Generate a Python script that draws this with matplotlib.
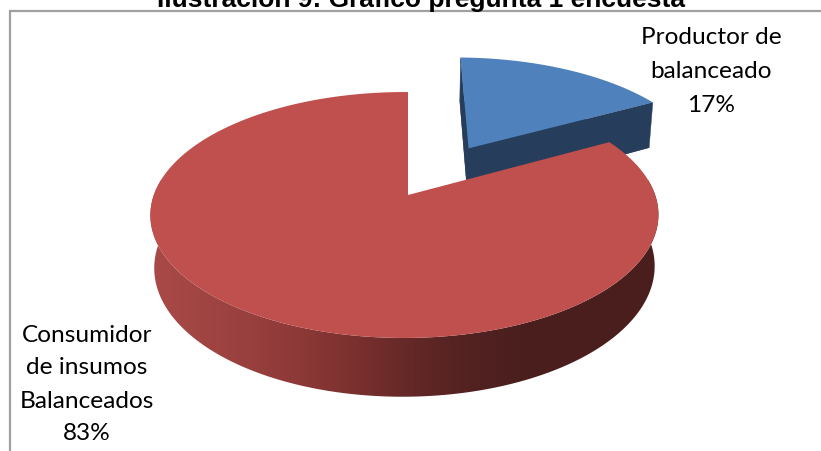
import numpy as np
import matplotlib
matplotlib.use("Agg")
import matplotlib.pyplot as plt
from matplotlib.patches import Polygon

# --- DATA ---
CATEGORIES = ["Productor de\nbalanceado", "Consumidor\nde insumos\nBalanceados"]
PERCENTS = [17, 83]
TITLE = "Ilustración 9: Gráfico pregunta 1 encuesta"

# --- PIE GEOMETRY (pixels, perspective view of a unit disk) ---
CX, CY = 408, 195
RX, RY = 250.6, 119.7
PERSP_Y = 0.1626
PERSP_X = 0.014
DROP = 51
BOTTOM_SCALE = 0.985
EXPLODE = 0.485
EXPLODE_NUDGE = 0.012

BLUE_TOP = "#4f81bd"
BLUE_SIDE = "#263d5c"
RED_TOP = "#c0504d"

# side shading of the big slice, left to right
SHADE_X = [150, 250, 300, 350, 420, 480, 520, 660]
SHADE_R = [170, 152, 140, 124, 96, 80, 75, 74]
SHADE_G = [74, 64, 57, 49, 39, 33, 31, 30]
SHADE_B = [72, 62, 55, 47, 38, 32, 30, 29]


def project(x, y, bottom=False):
    """Disk coordinates to pixels, for the top or the bottom face."""
    d = 1 + PERSP_Y * y + PERSP_X * x
    if bottom:
        return CX + BOTTOM_SCALE * RX * x / d, CY + DROP / d - BOTTOM_SCALE * RY * y / d
    return CX + RX * x / d, CY - RY * y / d


def slice_outline(a0, a1, ox=0.0, oy=0.0, n=120):
    """Apex and arc of a slice, angles clockwise from north in degrees."""
    t = np.radians(np.linspace(a0, a1, n))
    x = np.r_[0, np.sin(t)] + ox
    y = np.r_[0, np.cos(t)] + oy
    return x, y


def draw_small_slice(ax, sweep):
    mid = np.radians(sweep / 2)
    ox = EXPLODE * np.sin(mid) + EXPLODE_NUDGE
    oy = EXPLODE * np.cos(mid)
    x, y = slice_outline(0, sweep, ox, oy)
    tx, ty = project(x, y)
    bx, by = project(x, y, bottom=True)
    ax.fill(bx, by, color=BLUE_SIDE, lw=0)
    # the two cut faces
    for i, j in [(0, 1), (-1, 0)]:
        qx = [tx[i], tx[j], bx[j], bx[i]]
        qy = [ty[i], ty[j], by[j], by[i]]
        ax.fill(qx, qy, color=BLUE_SIDE, lw=0.3)
    ax.fill(tx, ty, color=BLUE_TOP, lw=0)


def draw_big_slice(ax, start):
    x, y = slice_outline(start, 360, n=300)
    tx, ty = project(x, y)
    bx, by = project(x, y, bottom=True)

    # rim: a horizontal gradient clipped to the visible front wall
    front = y[1:] < 0.25
    rim_x = np.r_[tx[1:][front], bx[1:][front][::-1]]
    rim_y = np.r_[ty[1:][front], by[1:][front][::-1]]
    clip = Polygon(np.c_[rim_x, rim_y], closed=True, transform=ax.transData, fc="none", ec="none")
    ax.add_patch(clip)
    xs = np.arange(140, 671)
    grad = np.dstack([np.interp(xs, SHADE_X, SHADE_R),
                      np.interp(xs, SHADE_X, SHADE_G),
                      np.interp(xs, SHADE_X, SHADE_B)]) / 255
    im = ax.imshow(grad, extent=(140, 671, 420, 180), aspect="auto", interpolation="bilinear")
    im.set_clip_path(clip)

    ax.fill(tx, ty, color=RED_TOP, lw=0)


def main():
    fig = plt.figure(figsize=(8.21, 4.51), dpi=100)
    ax = fig.add_axes([0, 0, 1, 1])
    ax.axis("off")

    # chart frame, open at the right and the bottom
    ax.plot([9.5, 9.5, 821], [451, 10.5, 10.5], color="#a0a0a0", lw=1.6,
            solid_joinstyle="miter")

    sweep = 360 * PERCENTS[0] / sum(PERCENTS)
    draw_small_slice(ax, sweep)
    draw_big_slice(ax, sweep)

    ax.set_xlim(0, 821)
    ax.set_ylim(451, 0)

    ax.text(421, 7, TITLE, family="Liberation Sans", weight="bold", fontsize=19,
            ha="center", va="baseline", color="black")

    label_font = dict(family="Lato", fontsize=17.6, ha="center", va="center", color="black")
    lines_a = CATEGORIES[0].split("\n") + [f"{PERCENTS[0]}%"]
    for line, ypos in zip(lines_a, [37, 71, 106]):
        ax.text(711, ypos, line, **label_font)
    lines_b = CATEGORIES[1].split("\n") + [f"{PERCENTS[1]}%"]
    for line, ypos in zip(lines_b, [335, 368, 401, 434]):
        ax.text(87, ypos, line, **label_font)

    fig.savefig("out.png", dpi=100)


if __name__ == "__main__":
    main()
